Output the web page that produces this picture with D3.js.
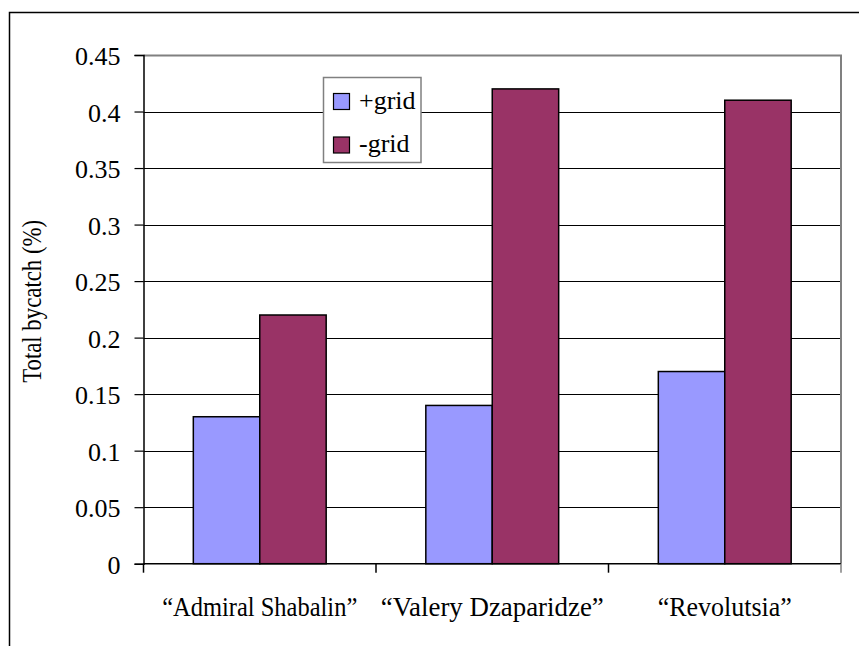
<!DOCTYPE html>
<html>
<head>
<meta charset="utf-8">
<script src="https://cdn.jsdelivr.net/npm/d3@7"></script>
<style>
  html, body { margin: 0; padding: 0; background: #fff; }
  svg { display: block; }
</style>
</head>
<body>
<svg id="chart" width="859" height="646"></svg>
<script>
// Vessels compared and bycatch share (%) with and without a sorting grid
const categories = ["\u201CAdmiral Shabalin\u201D", "\u201CValery Dzaparidze\u201D", "\u201CRevolutsia\u201D"];
const seriesNames = ["+grid", "-grid"];
const withGrid = [0.13, 0.14, 0.17];
const withoutGrid = [0.22, 0.42, 0.41];
const yTicks = [0, 0.05, 0.1, 0.15, 0.2, 0.25, 0.3, 0.35, 0.4, 0.45];
const colors = ["#9999FF", "#993366"];

// condensed label widths (px) for the category names
const categoryLabelWidths = [195, 223, 134];

const FONT = "'Liberation Serif', 'Times New Roman', Times, 'DejaVu Serif', serif";

const rows = categories.map((c, i) => ({ cat: c, values: [withGrid[i], withoutGrid[i]] }));

const svg = d3.select("#chart").attr("font-family", FONT).style("font-family", FONT);
const plot = { left: 143.5, right: 841, top: 55, bottom: 563.7 };

// outer chart frame
svg.append("rect")
  .attr("x", 9.5).attr("y", 12.5)
  .attr("width", 860).attr("height", 660)
  .attr("fill", "#fff").attr("stroke", "#000").attr("stroke-width", 1.5);

const y = d3.scaleLinear().domain([0, 0.45]).range([plot.bottom, plot.top]);
const x0 = d3.scaleBand().domain(categories).range([plot.left, plot.right]).padding(0);
const x1 = d3.scaleBand().domain(seriesNames).range([0, x0.bandwidth()])
  .paddingInner(0).paddingOuter(0.75);

// horizontal gridlines
svg.append("g")
  .selectAll("line")
  .data(yTicks.filter(t => t > 0 && t < 0.45))
  .join("line")
  .attr("x1", plot.left).attr("x2", plot.right)
  .attr("y1", d => Math.round(y(d)) + 0.5).attr("y2", d => Math.round(y(d)) + 0.5)
  .attr("stroke", "#000").attr("stroke-width", 1);

// plot area frame (top and right edges)
svg.append("path")
  .attr("d", `M${plot.left},${Math.round(plot.top) + 0.5}H${plot.right}V${plot.bottom}`)
  .attr("fill", "none").attr("stroke", "#808080").attr("stroke-width", 2);

// bars
const groups = svg.append("g").selectAll("g")
  .data(rows)
  .join("g")
  .attr("transform", d => `translate(${x0(d.cat)},0)`);

groups.selectAll("rect")
  .data(d => d.values.map((v, i) => ({ key: seriesNames[i], v, i })))
  .join("rect")
  .attr("x", d => x1(d.key))
  .attr("width", x1.bandwidth())
  .attr("y", d => y(d.v))
  .attr("height", d => y(0) - y(d.v))
  .attr("fill", d => colors[d.i])
  .attr("stroke", "#000").attr("stroke-width", 1.5);

// y axis
const yAxis = d3.axisLeft(y).tickValues(yTicks).tickSize(9).tickPadding(14)
  .tickFormat(d => String(+d.toFixed(2)));
const gy = svg.append("g").attr("transform", `translate(${plot.left},0)`).call(yAxis)
  .attr("font-family", FONT).attr("font-size", 26);
gy.select(".domain").attr("stroke", "#000").attr("stroke-width", 1.5);
gy.selectAll(".tick line").attr("stroke", "#000").attr("stroke-width", 1.2);
gy.selectAll(".tick text")
  .style("font-family", FONT)
  .style("font-size", "26px").attr("fill", "#000").attr("dy", "0.37em");

// x axis with category boundary ticks
const gx = svg.append("g").attr("transform", `translate(0,${plot.bottom})`);
gx.append("line").attr("x1", plot.left).attr("x2", plot.right)
  .attr("stroke", "#000").attr("stroke-width", 1.5);
const bounds = categories.map(c => x0(c)).concat([plot.right]);
gx.selectAll("line.tick").data(bounds).join("line").attr("class", "tick")
  .attr("x1", d => d).attr("x2", d => d).attr("y1", 0).attr("y2", 9)
  .attr("stroke", d => d === plot.right ? "#808080" : "#000").attr("stroke-width", 1.5);
gx.selectAll("text").data(categories).join("text")
  .attr("x", d => x0(d) + x0.bandwidth() / 2)
  .attr("y", 52.5)
  .attr("text-anchor", "middle")
  .attr("textLength", (d, i) => categoryLabelWidths[i])
  .attr("lengthAdjust", "spacingAndGlyphs")
  .style("font-family", FONT)
  .style("font-size", "28px")
  .text(d => d);

// y axis title
svg.append("text")
  .attr("transform", `translate(41,${(plot.top + plot.bottom) / 2 - 8}) rotate(-90)`)
  .attr("text-anchor", "middle")
  .attr("textLength", 163)
  .attr("lengthAdjust", "spacingAndGlyphs")
  .style("font-family", FONT)
  .style("font-size", "28px")
  .text("Total bycatch (%)");

// legend
const lg = svg.append("g").attr("transform", "translate(323.5,77.5)");
lg.append("rect").attr("width", 97.5).attr("height", 85)
  .attr("fill", "#fff").attr("stroke", "#808080").attr("stroke-width", 1.5);
const items = lg.selectAll("g.item").data(seriesNames).join("g").attr("class", "item")
  .attr("transform", (d, i) => `translate(10,${16 + i * 43.5})`);
items.append("rect").attr("width", 16).attr("height", 16)
  .attr("fill", (d, i) => colors[i]).attr("stroke", "#000").attr("stroke-width", 1.2);
items.append("text").attr("x", 25.5).attr("y", 15)
  .style("font-family", FONT)
  .style("font-size", "26px").text(d => d);
</script>
</body>
</html>
